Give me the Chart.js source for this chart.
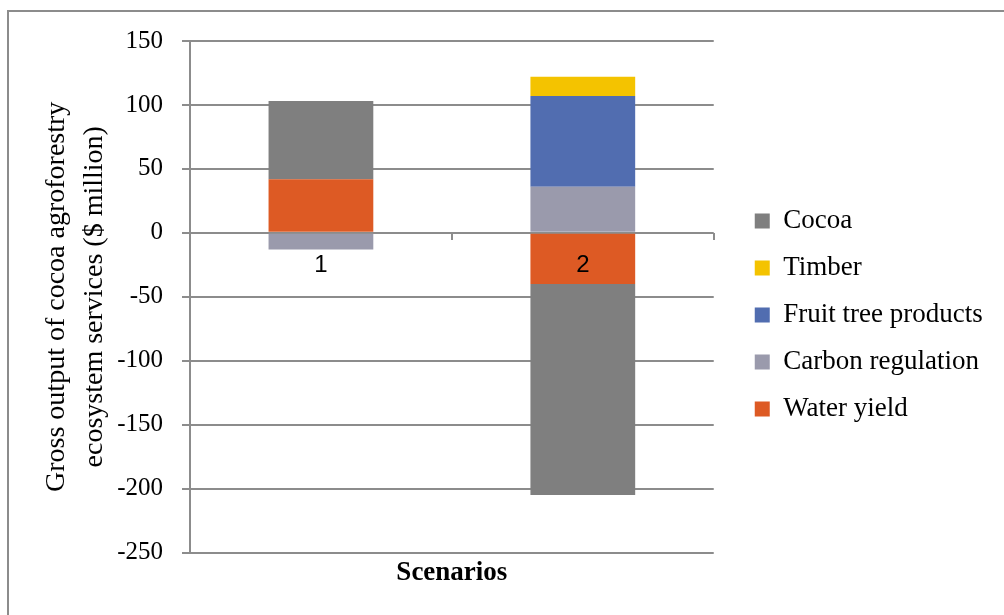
<!DOCTYPE html>
<html>
<head>
<meta charset="utf-8">
<script src="https://cdn.jsdelivr.net/npm/chart.js@4.4.1/dist/chart.umd.min.js"></script>
<style>
  html, body { margin: 0; padding: 0; background: #fff; }
  #frame { position: absolute; left: 7px; top: 10px; width: 1100px; height: 700px;
           border-top: 2px solid #8c8c8c; border-left: 2px solid #8c8c8c; }
  #wrap { position: absolute; left: 0; top: 0; width: 1004px; height: 615px; }
</style>
</head>
<body>
<div id="frame"></div>
<div id="wrap"><canvas id="chart" width="1004" height="615"></canvas></div>
<script>
// values in $ million
const scenarios = ['1', '2'];
const waterYield = [42, -40];
const carbonRegulation = [-13, 36];
const fruitTreeProducts = [0, 71];
const timber = [0, 15];
const cocoa = [61, -165];

const yTicks = { min: -250, max: 150, step: 50 };

const grid = '#8c8c8c';
const serif = "'Liberation Serif', 'Times New Roman', serif";
const legendGap = 21;

// push the legend a bit further away from the plot
const legendShift = {
  id: 'legendShift',
  beforeInit(chart) {
    const fit = chart.legend.fit;
    chart.legend.fit = function () {
      fit.call(this);
      this.width += legendGap;
    };
  },
  afterLayout(chart) {
    chart.legend.left += legendGap;
    chart.legend.right += legendGap;
  }
};

const ctx = document.getElementById('chart');
const myChart = new Chart(ctx, {
  type: 'bar',
  data: {
    labels: scenarios,
    datasets: [
      { label: 'Water yield', data: waterYield, backgroundColor: '#dd5a24' },
      { label: 'Carbon regulation', data: carbonRegulation, backgroundColor: '#9a9aac' },
      { label: 'Fruit tree products', data: fruitTreeProducts, backgroundColor: '#516db0' },
      { label: 'Timber', data: timber, backgroundColor: '#f4c300' },
      { label: 'Cocoa', data: cocoa, backgroundColor: '#7f7f7f' }
    ]
  },
  options: {
    responsive: false,
    animation: false,
    layout: { padding: { left: 20, top: 41, right: 31, bottom: 26 } },
    datasets: { bar: { categoryPercentage: 1, barPercentage: 0.4, borderWidth: 0 } },
    scales: {
      x: {
        stacked: true,
        position: { y: 0 },
        border: { display: false },
        grid: { drawOnChartArea: false, drawTicks: true, tickLength: 7, color: grid, lineWidth: 2 },
        ticks: { z: 1, color: '#000', padding: 11, font: { family: "'Liberation Sans', Arial, sans-serif", size: 24 } }
      },
      xt: {
        type: 'category',
        position: 'bottom',
        grid: { display: false, drawTicks: false },
        border: { display: false },
        ticks: { display: false },
        title: { display: true, text: 'Scenarios', color: '#000', padding: { top: 4, bottom: 0 },
                 font: { family: serif, size: 27, weight: 'bold' } }
      },
      y: {
        stacked: true,
        min: yTicks.min,
        max: yTicks.max,
        ticks: { stepSize: yTicks.step, color: '#000', padding: 19, font: { family: serif, size: 25 } },
        grid: { color: grid, lineWidth: 2, tickLength: 8 },
        border: { display: true, color: grid, width: 2 },
        title: {
          display: true,
          text: ['Gross output of cocoa agroforestry', 'ecosystem services ($ million)'],
          color: '#000',
          padding: { top: 18, bottom: -16 },
          font: { family: serif, size: 28, lineHeight: 1.36 }
        }
      }
    },
    plugins: {
      legend: {
        position: 'right',
        reverse: true,
        labels: { boxWidth: 15, boxHeight: 15, padding: 20, color: '#000',
                  font: { family: serif, size: 27 } }
      },
      tooltip: { enabled: false }
    }
  },
  plugins: [legendShift]
});
</script>
</body>
</html>
